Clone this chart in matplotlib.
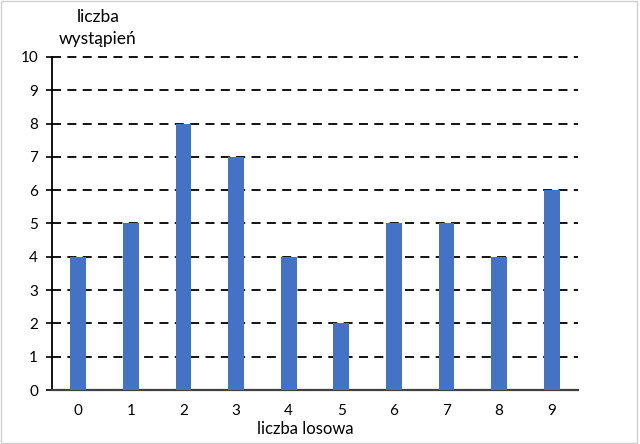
import matplotlib
matplotlib.use("Agg")
import matplotlib.pyplot as plt
from matplotlib.patches import Rectangle

# dane
liczby = [0, 1, 2, 3, 4, 5, 6, 7, 8, 9]
wystapienia = [4, 5, 8, 7, 4, 2, 5, 5, 4, 6]
y_ticks = list(range(0, 11))

plt.rcParams['font.family'] = ['Lato', 'DejaVu Sans']

fig = plt.figure(figsize=(6.4, 4.44), dpi=100)
ax = fig.add_axes([52/640, 1 - 390/444, 526/640, 333/444])

ax.bar(liczby, wystapienia, width=0.3, color='#4472C4', zorder=3)

ax.set_xlim(-0.5, 9.5)
ax.set_ylim(0, 10)
ax.set_xticks(liczby)
ax.set_yticks(y_ticks)
ax.tick_params(axis='x', length=0, pad=10, labelsize=11)
ax.tick_params(axis='y', length=4, width=1.2, direction='out', pad=6, labelsize=11)

for y in y_ticks[1:]:
    ax.axhline(y, color='black', linestyle=(0, (5, 3.5)), linewidth=1.3, zorder=1, clip_on=False)

ax.spines['top'].set_visible(False)
ax.spines['right'].set_visible(False)
ax.spines['left'].set_linewidth(1.3)
ax.spines['bottom'].set_linewidth(1.6)
ax.spines['bottom'].set_color('#404040')

fig.text(98/640, 1 - 17/444, 'liczba', ha='center', va='center', fontsize=12.5)
fig.text(98/640, 1 - 39/444, 'wystąpień', ha='center', va='center', fontsize=12.5)
fig.text(305/640, 1 - 429/444, 'liczba losowa', ha='center', va='center', fontsize=12)

fig.patches.append(Rectangle((0.002, 0.003), 0.993, 0.995, transform=fig.transFigure,
                             fill=False, edgecolor='#d0d0d0', linewidth=1))

fig.savefig('out.png', dpi=100)
